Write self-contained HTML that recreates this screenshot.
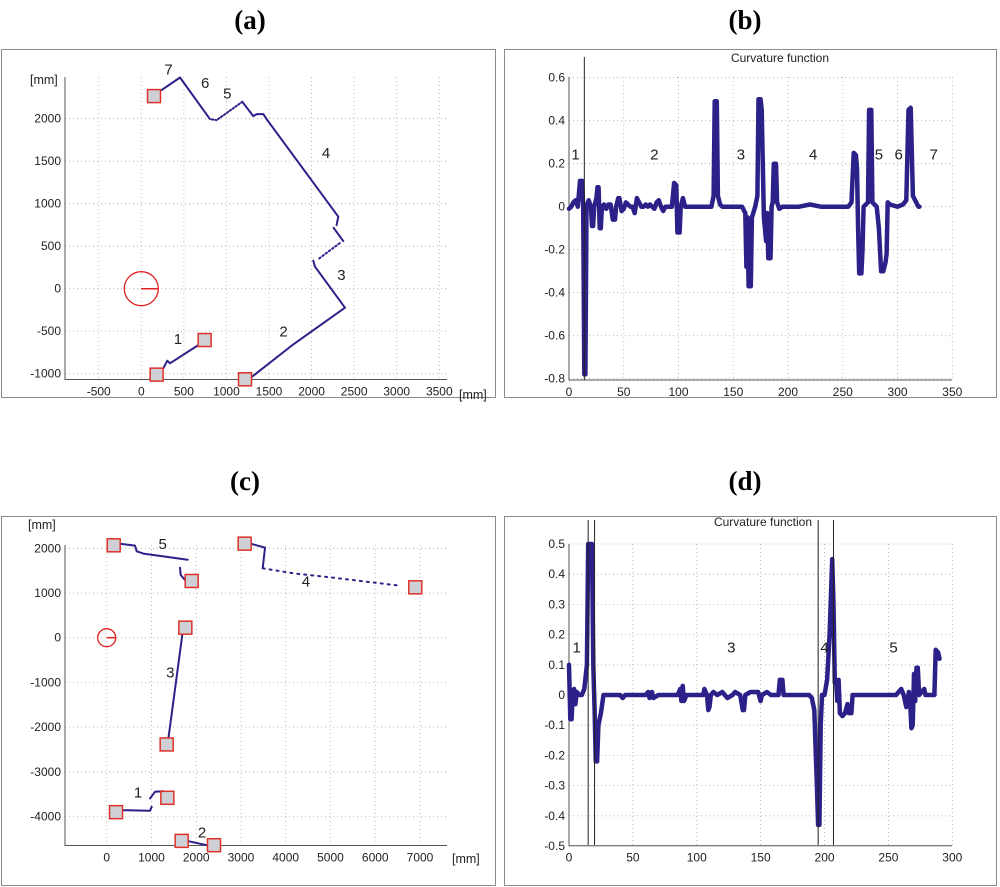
<!DOCTYPE html>
<html><head><meta charset="utf-8">
<style>
html,body{margin:0;padding:0;background:#fff;}
svg{display:block;font-family:"Liberation Sans",sans-serif;}
.tick{font-size:12px;fill:#222;}
.lbl{font-size:15px;fill:#222;}
.plbl{font-family:"Liberation Serif",serif;font-weight:bold;font-size:27px;fill:#000;}
</style></head>
<body>
<svg id="fig" width="1000" height="887" viewBox="0 0 1000 887">
<text class="plbl" x="250" y="29" text-anchor="middle">(a)</text>
<text class="plbl" x="745" y="29" text-anchor="middle">(b)</text>
<text class="plbl" x="245" y="490" text-anchor="middle">(c)</text>
<text class="plbl" x="745" y="490" text-anchor="middle">(d)</text>
<rect x="1.5" y="49.5" width="494" height="348" fill="none" stroke="#8a8a8a"/>
<rect x="504.5" y="49.5" width="492" height="348" fill="none" stroke="#8a8a8a"/>
<rect x="1.5" y="516.5" width="494" height="369" fill="none" stroke="#8a8a8a"/>
<rect x="504.5" y="516.5" width="492" height="369" fill="none" stroke="#8a8a8a"/>
</svg>
<script>
// ---------- Panel (a) data (mm) ----------
const aXTicks=[-500,0,500,1000,1500,2000,2500,3000,3500];
const aYTicks=[-1000,-500,0,500,1000,1500,2000];
const aSeg1X=[258,305,337,689]; const aSeg1Y=[-937,-847,-878,-651];
const aDotX=[285]; const aDotY=[-730];
const aSeg2X=[1276,1766,2392,2040,2020]; const aSeg2Y=[-1055,-670,-223,259,329];
const aSeg3X=[2091,2353]; const aSeg3Y=[357,553];
const aSeg4X=[2259,2373]; const aSeg4Y=[717,560];
const aSeg5X=[2294,2314,1472,1433,1355,1315,1186]; const aSeg5Y=[749,847,1995,2054,2054,2031,2199];
const aSeg6X=[1186,885,806]; const aSeg6Y=[2199,1984,1995];
const aSeg7X=[806,454,239]; const aSeg7Y=[1995,2485,2336];
const aSqX=[149,180,744,1218]; const aSqY=[2266,-1011,-604,-1066];
const aLabels=["7","6","5","4","3","2","1"];
const aLabX=[320,750,1010,2170,2350,1670,430]; const aLabY=[2520,2360,2240,1540,100,-560,-650];
// ---------- Panel (b) curvature ----------
const bXTicks=[0,50,100,150,200,250,300,350];
const bYTicks=[-0.8,-0.6,-0.4,-0.2,0,0.2,0.4,0.6];
const bIdx=[0,2,4,6,8,10,12,13,14,15,16,18,20,21,22,23,25,26,27,28,29,30,32,34,36,38,40,42,43,45,46,48,50,52,54,56,58,60,62,64,66,68,70,72,74,76,78,80,82,84,86,88,90,94,96,98,99,101,102,104,106,110,130,132,133,135,136,138,140,158,160,161,162,163,164,166,167,170,172,173,175,176,177,178,180,181,182,184,185,186,187,189,190,192,195,200,210,220,230,240,255,258,260,262,263,264,265,267,268,269,271,273,274,276,277,279,281,283,285,287,289,290,291,293,300,305,308,310,312,314,316,319,320];
const bVal=[-0.01,0,0.02,0.03,0,0.12,0.12,0,-0.78,-0.78,0,0.03,0,-0.09,-0.09,0,0.04,0.09,0.09,-0.1,-0.1,0,0.01,-0.01,0.01,0.01,-0.06,-0.06,0,0.04,0.04,-0.02,-0.01,0.02,0.01,0,0,-0.03,0.04,0.02,0,0,0.01,0,0.01,0,-0.01,0.02,0.03,0,-0.02,0,0,0,0.11,0.1,-0.12,-0.12,0,0.04,0,0,0,0.05,0.49,0.49,0.05,0.01,0,0,-0.02,-0.03,-0.28,-0.05,-0.37,-0.37,-0.05,0,0.05,0.5,0.5,0.45,0.2,-0.05,-0.16,-0.03,-0.24,-0.24,0,0.02,0.2,0.2,0.02,-0.01,0,0,0,0.01,0,0,0,0.02,0.25,0.24,0.18,-0.1,-0.31,-0.31,-0.2,0,0.01,0.02,0.45,0.45,0.02,0.01,0,-0.1,-0.3,-0.3,-0.26,-0.22,0.02,0.01,0,0.01,0.03,0.45,0.46,0.05,0.03,0,0];
const bVLines=[14];
const bLabels=["1","2","3","4","5","6","7"];
const bLabX=[6,78,157,223,283,301,333];
const bLabY=[0.22,0.22,0.22,0.22,0.22,0.22,0.22];
// ---------- Panel (c) data (mm) ----------
const cXTicks=[0,1000,2000,3000,4000,5000,6000,7000];
const cYTicks=[-4000,-3000,-2000,-1000,0,1000,2000];
const cSeg5X=[298,633,670,819,1810]; const cSeg5Y=[2104,2060,1933,1881,1746];
const cSeg5bX=[1638,1653,1750]; const cSeg5bY=[1567,1403,1291];
const cSeg4X=[3239,3537,3485]; const cSeg4Y=[2097,2015,1552];
const cSeg4bX=[3485,4170,5063,6552]; const cSeg4bY=[1552,1440,1343,1164];
const cSeg3X=[1698,1378]; const cSeg3Y=[134,-2254];
const cSeg1X=[372,968,1005]; const cSeg1Y=[-3858,-3873,-3784];
const cSeg1bX=[968,1080,1266]; const cSeg1bY=[-3597,-3448,-3433];
const cSeg2X=[1824,2234]; const cSeg2Y=[-4552,-4642];
const cSqX=[156,1899,3082,6895,1757,1340,1355,208,1675,2397]; const cSqY=[2067,1269,2104,1127,224,-2388,-3582,-3903,-4545,-4642];
const cLabels=["5","4","3","1","2"];
const cLabX=[1250,4450,1420,700,2130]; const cLabY=[1980,1150,-890,-3580,-4470];
// ---------- Panel (d) curvature ----------
const dXTicks=[0,50,100,150,200,250,300];
const dYTicks=[-0.5,-0.4,-0.3,-0.2,-0.1,0,0.1,0.2,0.3,0.4,0.5];
const dIdx=[0,1,2,3,4,5,6,8,10,12,14,15,18,19,20,21,22,23,25,27,40,42,44,60,62,63,65,66,70,85,87,88,89,90,92,105,106,108,109,110,111,113,116,120,124,128,130,134,136,137,138,142,148,150,151,155,158,164,165,167,168,175,188,190,192,194,195,196,197,198,200,202,204,206,207,208,209,210,211,212,214,216,218,219,221,222,230,240,250,256,258,260,262,264,266,267,268,269,270,271,272,273,274,276,278,279,282,286,287,289,290];
const dVal=[0.1,-0.08,-0.08,0.01,0.02,-0.03,0.01,0,0,0.02,0.1,0.5,0.5,0.1,-0.05,-0.22,-0.22,-0.1,-0.06,0,0,-0.01,0,0,0.01,-0.01,0.01,-0.01,0,0,0.02,-0.02,0.03,-0.02,0,0,0.02,0,-0.05,-0.04,0,0.01,0,0.01,-0.01,0,0.01,0,-0.05,-0.05,0,0.01,0.01,-0.02,0,0.01,0,0,0.05,0.05,0,0,0,-0.01,-0.05,-0.3,-0.43,-0.43,-0.1,0,0,0.05,0.2,0.45,0.3,0.04,0.05,-0.02,0.05,-0.06,-0.07,-0.06,-0.03,-0.06,-0.06,0,0,0,0,0,0.01,0.02,0,-0.04,0.01,-0.02,-0.11,-0.1,0.07,-0.02,0.09,0.09,0,0.01,0.02,0,0,0,0.15,0.14,0.12];
const dVLines=[15,20,195,207];
const dLabels=["1","3","4","5"];
const dLabX=[6,127,200,254]; const dLabY=[0.14,0.14,0.14,0.14];

const NS="http://www.w3.org/2000/svg";
const svg=document.getElementById('fig');
function mk(tag,attrs,parent){const e=document.createElementNS(NS,tag);for(const k in attrs)e.setAttribute(k,attrs[k]);(parent||svg).appendChild(e);return e;}
function lin(d0,d1,p0,p1){return v=>p0+(v-d0)*(p1-p0)/(d1-d0);}
const BLUE="#2b2188";

function axes(g,sx,sy,xt,yt,L,R,T,B,fmt){
  xt.forEach(v=>{
    const gl=mk('line',{x1:sx(v),x2:sx(v),y1:T,y2:B,stroke:'#aaa','stroke-width':0.8,'stroke-dasharray':'1 3'},g);
    
    
    const t=mk('text',{x:sx(v),y:B+16,'text-anchor':'middle',class:'tick'},g);t.textContent=fmt(v);
    
    
  });
  yt.forEach(v=>{
    const gl=mk('line',{x1:L,x2:R,y1:sy(v),y2:sy(v),stroke:'#aaa','stroke-width':0.8,'stroke-dasharray':'1 3'},g);
    
    
    const t=mk('text',{x:L-4,y:sy(v)+4,'text-anchor':'end',class:'tick'},g);t.textContent=fmt(v);
    
    
  });
  const ax=mk('path',{d:`M${L},${T} V${B} H${R}`,fill:'none',stroke:'#555','stroke-width':1},g);
  
  
}
function poly(g,sx,sy,xs,ys,w,dash,name){
  const pts=xs.map((x,i)=>sx(x).toFixed(1)+','+sy(ys[i]).toFixed(1)).join(' ');
  const a={points:pts,fill:'none',stroke:BLUE,'stroke-width':w,'stroke-linejoin':'round','stroke-linecap':'round'};
  if(dash)a['stroke-dasharray']=dash;
  const p=mk('polyline',a,g);
  
  
}
function squares(g,sx,sy,xs,ys,s){
  xs.forEach((x,i)=>{
    const r=mk('rect',{x:sx(x)-s/2,y:sy(ys[i])-s/2,width:s,height:s,fill:'#cfd0d6',stroke:'#e0302a','stroke-width':1.5},g);
    
    
  });
}
function labels(g,sx,sy,txt,xs,ys,size){
  txt.forEach((t,i)=>{
    const e=mk('text',{x:sx(xs[i]),y:sy(ys[i]),'text-anchor':'middle',class:'lbl','font-size':size},g);e.textContent=t;
    
    
  });
}
function robot(g,sx,sy,r){
  const c=mk('circle',{cx:sx(0),cy:sy(0),r:r,fill:'none',stroke:'#e02020','stroke-width':1.3},g);
  
  
  const l=mk('line',{x1:sx(0),y1:sy(0),x2:sx(0)+r,y2:sy(0),stroke:'#e02020','stroke-width':1.5},g);
  
  
}
function vlines(g,sx,xs,t,b){
  xs.forEach(v=>{
    const l=mk('line',{x1:sx(v),x2:sx(v),y1:t,y2:b,stroke:'#222','stroke-width':1},g);
    
    
  });
}
function txt(g,x,y,s,size,anchor,name){
  const e=mk('text',{x:x,y:y,'font-size':size,'text-anchor':anchor||'start',fill:'#222'},g);e.textContent=s;
  
  
}

// Panel a
{
  const g=mk('g',{});
  
  
  const sx=lin(0,3500,141.3,439.3), sy=lin(0,2000,288.7,118.7);
  axes(g,sx,sy,aXTicks,aYTicks,65,447,77,379.5,v=>String(v));
  txt(g,30,84,'[mm]',12.5,'start','y-axis-unit');
  txt(g,459,399,'[mm]',12.5,'start','x-axis-unit');
  robot(g,sx,sy,17);
  poly(g,sx,sy,aSeg1X,aSeg1Y,2,null,'segment-1');
  poly(g,sx,sy,aDotX,aDotY,2.5,null,'segment-1-dot');
  poly(g,sx,sy,aSeg2X,aSeg2Y,2,null,'segment-2-3');
  poly(g,sx,sy,aSeg3X,aSeg3Y,2,'1.5 2.5','segment-3-dotted');
  poly(g,sx,sy,aSeg4X,aSeg4Y,2,null,'segment-3b');
  poly(g,sx,sy,aSeg5X,aSeg5Y,2,null,'segment-4');
  poly(g,sx,sy,aSeg6X,aSeg6Y,2,'1.5 2','segment-5');
  poly(g,sx,sy,aSeg7X,aSeg7Y,2,null,'segment-6-7');
  squares(g,sx,sy,aSqX,aSqY,13);
  labels(g,sx,sy,aLabels,aLabX,aLabY,14);
}
// Panel b
{
  const g=mk('g',{});
  
  
  const sx=lin(0,350,569,952.3), sy=lin(0,0.6,206.7,77.7);
  axes(g,sx,sy,bXTicks,bYTicks,569,952,77,380,v=>String(Math.round(v*10)/10));
  txt(g,780,62,'Curvature function',12,'middle','chart-title');
  poly(g,sx,sy,bIdx,bVal,4.5,null,'curvature-line');
  vlines(g,sx,bVLines,57,380);
  labels(g,sx,sy,bLabels,bLabX,bLabY,15);
}
// Panel c
{
  const g=mk('g',{});
  
  
  const sx=lin(0,7000,106.7,420), sy=lin(0,2000,637.7,548.3);
  axes(g,sx,sy,cXTicks,cYTicks,65,447,545,845.5,v=>String(v));
  txt(g,28,529,'[mm]',12.5,'start','y-axis-unit');
  txt(g,452,863,'[mm]',12.5,'start','x-axis-unit');
  robot(g,sx,sy,9);
  poly(g,sx,sy,cSeg5X,cSeg5Y,2,null,'segment-5');
  poly(g,sx,sy,cSeg5bX,cSeg5bY,2,null,'segment-5b');
  poly(g,sx,sy,cSeg4X,cSeg4Y,2,null,'segment-4a');
  poly(g,sx,sy,cSeg4bX,cSeg4bY,2,'2 5','segment-4-dotted');
  poly(g,sx,sy,cSeg3X,cSeg3Y,2,null,'segment-3');
  poly(g,sx,sy,cSeg1X,cSeg1Y,2,null,'segment-1a');
  poly(g,sx,sy,cSeg1bX,cSeg1bY,2,null,'segment-1b');
  poly(g,sx,sy,cSeg2X,cSeg2Y,2,null,'segment-2');
  squares(g,sx,sy,cSqX,cSqY,13);
  labels(g,sx,sy,cLabels,cLabX,cLabY,14);
}
// Panel d
{
  const g=mk('g',{});
  
  
  const sx=lin(0,300,569,952.3), sy=lin(0,0.5,695,544);
  axes(g,sx,sy,dXTicks,dYTicks,569,952,544,845.7,v=>String(Math.round(v*10)/10));
  txt(g,763,526,'Curvature function',12,'middle','chart-title');
  poly(g,sx,sy,dIdx,dVal,4.5,null,'curvature-line');
  vlines(g,sx,dVLines,520,845);
  labels(g,sx,sy,dLabels,dLabX,dLabY,15);
}
</script>
</body></html>
